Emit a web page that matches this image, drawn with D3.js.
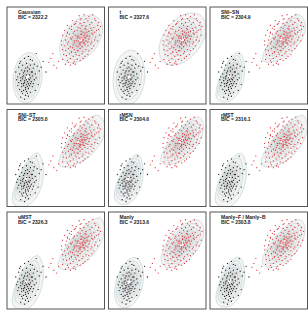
<!DOCTYPE html>
<html lang="en">
<head>
<meta charset="utf-8">
<script src="https://cdn.jsdelivr.net/npm/d3@7"></script>
<style>
  body { margin: 0; background: #fff; }
  text { font-family: "Liberation Sans", Arial, sans-serif; }
</style>
</head>
<body>
<script>
// model names and BIC shown in each panel
var models = ["Gaussian", "t", "SNI\u2013SN", "SNI\u2013ST", "rMSN", "rMST", "uMST", "Manly", "Manly\u2013F / Manly\u2013B"];
var bic = ["2322.2", "2327.6", "2304.9", "2305.0", "2304.6", "2316.1", "2326.3", "2313.6", "2303.8"];

// fitted shape per panel: skewness (standardised) of lower / upper group, tail df
var skewBlack = [[0, 0], [0, 0], [2.5, -2], [2.5, -2], [2.2, -2], [2, -1.8], [2, -1.8], [1, -0.8], [2, -1.6]];
var skewRed = [[0, 0], [0, 0], [3, -2], [3, -2], [2.5, -2.2], [2.5, -2.2], [2.5, -2.2], [1.2, -1], [2, -1.8]];
var tailDf = [Infinity, 6, Infinity, 8, Infinity, 8, 8, Infinity, Infinity];

// group centres / spreads
var centreBlack = [21, 27], sdBlack = [5.6, 9.8], rhoBlack = 0.12;
var centreRed = [76, 67], sdRed = [8.3, 9.3], rhoRed = 0.42;

// observations (same data in every panel)
var blackPts = [
  [14,44],[18,47],[22,49],[26,45],[30,52],[20,42],[16,40],[24,40],[28,41],[12,38],
  [19,37],[23,36],[27,37],[31,39],[15,35],[21,34],[25,33],[17,32],[13,31],[20,30],
  [23,30],[26,29],[29,31],[33,34],[11,28],[16,28],[19,27],[22,26],[24,27],[18,24],
  [14,24],[21,23],[25,23],[28,25],[12,22],[17,21],[20,20],[23,19],[15,18],[19,17],
  [22,16],[26,18],[13,15],[17,14],[20,13],[24,12],[16,11],[19,9],[22,8],[14,7],
  [18,5],[11,19],[10,25],[27,21],[30,27],[35,38],[40,33],[37,44],[32,20],[29,14],
  [9,33],[13,42],[24,46],[21,38],[18,34],[22,21],[16,26],[19,15],[23,25],[26,33],
  [17,19],[21,18],[18,22],[15,21],[20,25],[17,29],[14,27],[24,21],[21,11],[15,13]
];
var redPts = [
  [74,91],[79,92],[84,90],[88,92],[81,88],[76,88],[90,88],
  [67,86],[71,85],[75,87],[79,84],[83,86],[87,84],[91,86],[94,84],[70,83],
  [62,81],[66,80],[69,82],[73,79],[77,81],[81,80],[85,82],[89,79],[93,81],[96,80],[75,83],[64,78],
  [59,76],[62,74],[66,77],[69,75],[72,76],[75,78],[78,74],[81,77],[84,75],[87,76],[90,74],[94,77],[76,75],[80,78],[86,78],[92,76],
  [57,71],[61,70],[64,72],[67,69],[70,71],[73,70],[76,72],[79,69],[82,71],[85,70],[88,72],[91,69],[95,71],[68,73],[75,69],[80,73],[87,73],[62,73],
  [56,65],[60,66],[63,64],[66,67],[69,65],[72,68],[75,64],[78,66],[81,65],[84,67],[87,64],[90,66],[93,65],[71,65],[77,68],[83,64],[65,68],
  [56,61],[59,60],[62,62],[65,59],[68,61],[71,60],[74,62],[77,59],[80,61],[83,60],[86,62],[89,60],[69,63],[75,63],[79,63],[73,59],
  [57,56],[60,55],[63,57],[66,54],[69,56],[72,55],[75,57],[78,54],[81,56],[84,55],[87,57],[67,58],[73,55],
  [58,51],[61,50],[64,52],[68,49],[71,51],[74,50],[77,52],[80,49],[83,51],[66,53],[70,53],
  [57,46],[62,45],[65,47],[69,44],[72,46],[75,45],[78,47],[63,43],
  [60,41],[65,40],[70,41],[68,42],
  [45,47],[48,40],[47,52],[43,43],[51,37],[53,44],
  [75,67],[77,69],[79,71],[73,65],[78,66],[81,69],[76,72],[74,68],[80,68],[77,64],[72,70],[83,70],[79,63],[75,61],[82,74]
];

// relative density levels
var fillLevels = d3.range(0.03, 1.0, 0.04);
var lineLevels = [0.03, 0.08, 0.17, 0.32, 0.55];

var W = 308, H = 311;
var colX = [7, 108.5, 210], rowY = [7, 109.5, 212];
var pw = 97.5, ph = 97;
var N = 130; // grid resolution

var svg = d3.select("body").append("svg")
  .attr("width", W)
  .attr("height", H);

function erf(x) {
  var s = x < 0 ? -1 : 1;
  x = Math.abs(x);
  var t = 1 / (1 + 0.3275911 * x);
  var y = 1 - (((((1.061405429 * t - 1.453152027) * t) + 1.421413741) * t - 0.284496736) * t + 0.254829592) * t * Math.exp(-x * x);
  return s * y;
}
function Phi(z) { return 0.5 * (1 + erf(z / Math.SQRT2)); }

// skew-(t) density on the grid, scaled to max 1
function grid(centre, sd, rho, a, nu) {
  var Ra = [a[0] + rho * a[1], rho * a[0] + a[1]];
  var aRa = a[0] * a[0] + 2 * rho * a[0] * a[1] + a[1] * a[1];
  var delta = [Ra[0] / Math.sqrt(1 + aRa), Ra[1] / Math.sqrt(1 + aRa)];
  var om = [sd[0] / Math.sqrt(1 - 2 / Math.PI * delta[0] * delta[0]),
            sd[1] / Math.sqrt(1 - 2 / Math.PI * delta[1] * delta[1])];
  var loc = [centre[0] - om[0] * Math.sqrt(2 / Math.PI) * delta[0],
             centre[1] - om[1] * Math.sqrt(2 / Math.PI) * delta[1]];
  var vals = new Array(N * N), mx = 0;
  for (var j = 0; j < N; j++) {
    for (var i = 0; i < N; i++) {
      var x = (i + 0.5) * 100 / N, y = 100 - (j + 0.5) * 100 / N;
      var zx = (x - loc[0]) / om[0], zy = (y - loc[1]) / om[1];
      var q = (zx * zx - 2 * rho * zx * zy + zy * zy) / (1 - rho * rho);
      var base = isFinite(nu) ? Math.pow(1 + q / nu, -(nu + 2) / 2) : Math.exp(-q / 2);
      var v = base * 2 * Phi(a[0] * zx + a[1] * zy);
      vals[j * N + i] = v;
      if (v > mx) mx = v;
    }
  }
  return vals.map(function(v) { return v / mx; });
}

var fillColor = d3.scaleLinear().domain([0.03, 0.9]).range(["#f4f4f4", "#cdcdcd"]);

models.forEach(function(name, k) {
  var left = colX[k % 3], top = rowY[Math.floor(k / 3)];
  var x = d3.scaleLinear().domain([0, 100]).range([0, pw]);
  var y = d3.scaleLinear().domain([0, 100]).range([ph, 0]);

  svg.append("clipPath").attr("id", "clip" + k)
    .append("rect").attr("width", pw).attr("height", ph);

  var g = svg.append("g")
    .attr("transform", "translate(" + left + "," + top + ")");
  var inner = g.append("g").attr("clip-path", "url(#clip" + k + ")");

  var path = d3.geoPath(d3.geoIdentity().scale(pw / N));

  var comps = [
    grid(centreBlack, sdBlack, rhoBlack, skewBlack[k], tailDf[k]),
    grid(centreRed, sdRed, rhoRed, skewRed[k], tailDf[k])
  ];

  var cg = inner.append("g").attr("transform", "scale(1," + (ph / pw) + ")");
  comps.forEach(function(vals) {
    cg.append("g").selectAll("path")
      .data(d3.contours().size([N, N]).thresholds(fillLevels)(vals))
      .enter().append("path")
      .attr("d", path)
      .attr("fill", function(d) { return d.value > 0.93 ? "#ffffff" : fillColor(d.value); });
    cg.append("g").selectAll("path")
      .data(d3.contours().size([N, N]).thresholds(lineLevels)(vals))
      .enter().append("path")
      .attr("d", path)
      .attr("fill", "none")
      .attr("stroke", "#b7cccc")
      .attr("stroke-width", 0.6)
      .attr("vector-effect", "non-scaling-stroke");
  });

  inner.append("g").selectAll("circle")
    .data(blackPts)
    .enter().append("circle")
    .attr("cx", function(d) { return x(d[0]); })
    .attr("cy", function(d) { return y(d[1]); })
    .attr("r", 0.65)
    .attr("fill", "#222");

  inner.append("g").selectAll("circle")
    .data(redPts)
    .enter().append("circle")
    .attr("cx", function(d) { return x(d[0]); })
    .attr("cy", function(d) { return y(d[1]); })
    .attr("r", 0.65)
    .attr("fill", "#e4363f");

  g.append("text")
    .attr("x", 11).attr("y", 7.2)
    .attr("font-size", 5).attr("font-weight", "bold").attr("fill", "#222")
    .text(name);
  g.append("text")
    .attr("x", 11).attr("y", 11.8)
    .attr("font-size", 5).attr("font-weight", "bold").attr("fill", "#222")
    .text("BIC = " + bic[k]);

  g.append("rect")
    .attr("width", pw).attr("height", ph)
    .attr("fill", "none")
    .attr("stroke", "#555")
    .attr("stroke-width", 1);
});
</script>
</body>
</html>
